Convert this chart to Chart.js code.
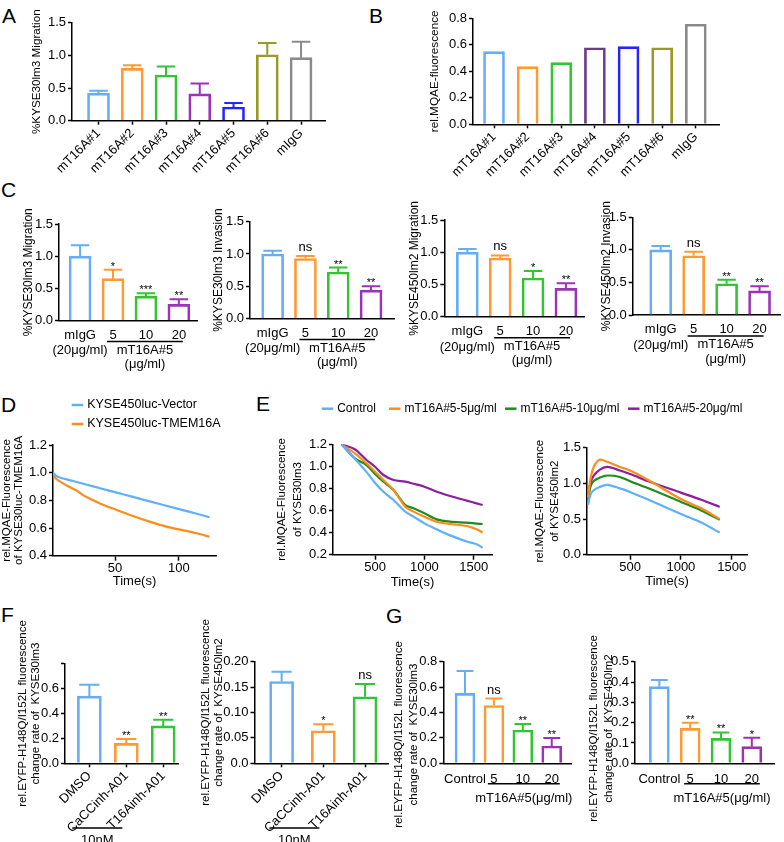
<!DOCTYPE html>
<html>
<head>
<meta charset="utf-8">
<title>TMEM16A antibody panels</title>
<script src="https://cdn.jsdelivr.net/npm/chart.js@4.4.1/dist/chart.umd.min.js"></script>
<style>
  body { margin: 0; background: #fff; }
  #fig { position: relative; width: 784px; height: 842px; overflow: hidden; font-family: Arial, "Liberation Sans", sans-serif; }
  #fig canvas { position: absolute; }
  .tag { position: absolute; font-size: 21px; line-height: 21px; color: #000; }
</style>
</head>
<body>
<div id="fig">
  <div class="tag" style="left:2px;top:5px">A</div>
  <div class="tag" style="left:369px;top:5px">B</div>
  <div class="tag" style="left:1px;top:179px">C</div>
  <div class="tag" style="left:1px;top:394px">D</div>
  <div class="tag" style="left:256px;top:393px">E</div>
  <div class="tag" style="left:1px;top:604px">F</div>
  <div class="tag" style="left:386px;top:605px">G</div>
</div>
<script>
// ---- values ----
const cloneNames = ['mT16A#1', 'mT16A#2', 'mT16A#3', 'mT16A#4', 'mT16A#5', 'mT16A#6', 'mIgG'];
const screenMigration = [0.42, 0.80, 0.70, 0.41, 0.21, 1.01, 0.965];
const screenMigrationErr = [0.04, 0.05, 0.13, 0.16, 0.06, 0.18, 0.245];
const screenMqae = [0.548, 0.435, 0.465, 0.578, 0.586, 0.578, 0.755];

const doseLabels = [['mIgG', '(20μg/ml)'], '5', '10', '20'];
const kyse30Migration = [1.0, 0.65, 0.38, 0.25];
const kyse30MigrationErr = [0.17, 0.14, 0.045, 0.08];
const kyse30MigrationSig = ['', '*', '***', '**'];
const kyse30Invasion = [1.0, 0.93, 0.72, 0.44];
const kyse30InvasionErr = [0.05, 0.04, 0.07, 0.06];
const kyse30InvasionSig = ['', 'ns', '**', '**'];
const kyse450Migration = [1.0, 0.91, 0.60, 0.44];
const kyse450MigrationErr = [0.05, 0.04, 0.11, 0.08];
const kyse450MigrationSig = ['', 'ns', '*', '**'];
const kyse450Invasion = [1.0, 0.91, 0.48, 0.37];
const kyse450InvasionErr = [0.06, 0.06, 0.06, 0.07];
const kyse450InvasionSig = ['', 'ns', '**', '**'];

const timeTicksD = [50, 100];
const timeD = [1.5, 4, 8, 13, 20, 26, 33, 39, 50, 64, 77, 90, 100, 114, 124];
const vectorD = [1.0, 0.976, 0.962, 0.95, 0.933, 0.918, 0.901, 0.886, 0.859, 0.825, 0.793, 0.761, 0.737, 0.703, 0.678];
const tmem16aD = [0.985, 0.955, 0.93, 0.904, 0.87, 0.832, 0.80, 0.774, 0.735, 0.687, 0.646, 0.61, 0.59, 0.562, 0.537];

const timeTicksE = [500, 1000, 1500];
const timeE30 = [160, 295, 413, 500, 585, 687, 806, 890, 1000, 1125, 1260, 1429, 1530, 1590];
const ctrlE30 = [1.2, 1.07, 0.95, 0.85, 0.77, 0.695, 0.59, 0.545, 0.484, 0.43, 0.375, 0.32, 0.295, 0.263];
const dose5E30 = [1.2, 1.118, 1.028, 0.952, 0.877, 0.786, 0.635, 0.59, 0.544, 0.499, 0.478, 0.46, 0.43, 0.40];
const dose10E30 = [1.2, 1.073, 1.012, 0.931, 0.861, 0.786, 0.65, 0.62, 0.575, 0.52, 0.499, 0.49, 0.482, 0.478];
const dose20E30 = [1.2, 1.155, 1.058, 0.997, 0.922, 0.877, 0.862, 0.843, 0.816, 0.77, 0.732, 0.69, 0.665, 0.65];

const timeE450 = [88, 110, 140, 200, 280, 400, 500, 700, 1000, 1200, 1382];
const ctrlE450 = [0.70, 0.84, 0.90, 0.95, 0.98, 0.93, 0.88, 0.76, 0.57, 0.45, 0.31];
const dose5E450 = [0.80, 1.05, 1.22, 1.33, 1.30, 1.23, 1.18, 1.03, 0.78, 0.65, 0.50];
const dose10E450 = [0.78, 0.95, 1.03, 1.08, 1.11, 1.09, 1.03, 0.92, 0.74, 0.62, 0.49];
const dose20E450 = [0.80, 1.0, 1.10, 1.19, 1.23, 1.18, 1.13, 1.02, 0.87, 0.77, 0.67];

const inhibitorLabels = ['DMSO', 'CaCCinh-A01', 'T16Ainh-A01'];
const eyfp30Inh = [0.54, 0.16, 0.30];
const eyfp30InhErr = [0.09, 0.035, 0.05];
const eyfp30InhSig = ['', '**', '**'];
const eyfp450Inh = [0.161, 0.064, 0.131];
const eyfp450InhErr = [0.019, 0.013, 0.025];
const eyfp450InhSig = ['', '*', 'ns'];

const antibodyLabels = ['Control', '5', '10', '20'];
const eyfp30Ab = [0.55, 0.455, 0.262, 0.136];
const eyfp30AbErr = [0.177, 0.055, 0.048, 0.064];
const eyfp30AbSig = ['', 'ns', '**', '**'];
const eyfp450Ab = [0.377, 0.172, 0.123, 0.082];
const eyfp450AbErr = [0.033, 0.028, 0.029, 0.044];
const eyfp450AbSig = ['', '**', '**', '*'];

// ---- styling ----
const FONT = 'Arial, "Liberation Sans", Helvetica, sans-serif';
Chart.defaults.font.family = FONT;
Chart.defaults.font.size = 13;
Chart.defaults.color = '#000';

const cLightBlue = '#66adf5', cOrange = '#ff9a33', cGreen = '#33c433', cPurple = '#9b33b8';
const cBlue = '#2424ff', cOlive = '#999926', cGray = '#8a8a8a', cDarkPurple = '#6a3a8c';
const colorsA = [cLightBlue, cOrange, cGreen, cPurple, cBlue, cOlive, cGray];
const colorsB = [cLightBlue, cOrange, cGreen, cDarkPurple, cBlue, cOlive, cGray];
const doseColors = [cLightBlue, cOrange, cGreen, cPurple];
const lineBlue = '#5fb0fa', lineOrange = '#ff8c1a', lineGreen = '#1f8c1f', linePurple = '#8c1f9e';

const fig = document.getElementById('fig');
function mkCanvas(box) {
  const c = document.createElement('canvas');
  c.width = box[2]; c.height = box[3];
  c.style.left = box[0] + 'px'; c.style.top = box[1] + 'px';
  c.style.width = box[2] + 'px'; c.style.height = box[3] + 'px';
  fig.appendChild(c);
  return c;
}

// box = canvas [x, y, w, h] on the page, plot = plot area [left, top, right, bottom] on the page
function baseOptions(box, plot) {
  return {
    responsive: false, animation: false, devicePixelRatio: 1, events: [],
    layout: { padding: { left: 0, top: plot[1] - box[1], right: box[0] + box[2] - plot[2], bottom: 0 } },
    plugins: { legend: { display: false }, tooltip: { enabled: false } }
  };
}

function yAxis(box, plot, o) {
  return {
    type: 'linear', min: o.min, max: o.max,
    afterFit: s => { s.width = plot[0] - box[0]; },
    border: { color: '#000', width: 1.5 },
    grid: { drawOnChartArea: false, color: '#000', tickColor: '#000', tickLength: 4, tickWidth: 1.5 },
    ticks: { stepSize: o.step, padding: 2, callback: o.fmt },
    title: { display: !o.shift, text: o.title, padding: 0, font: { size: o.size || 11.5, lineHeight: o.lh || 1.2 } }
  };
}

// y title drawn by hand when it sits off-centre from the plot
function shiftedTitle(y) {
  return {
    id: 'shiftedTitle',
    afterDraw(chart) {
      const s = chart.scales.y, ctx = chart.ctx;
      const size = y.size || 11.5, lh = size * (y.lh || 1.2);
      const cy = (s.top + s.bottom) / 2 + y.shift;
      ctx.save();
      ctx.fillStyle = '#000'; ctx.font = size + 'px ' + FONT;
      ctx.textAlign = 'center'; ctx.textBaseline = 'middle';
      [].concat(y.title).forEach((t, k) => {
        ctx.save();
        ctx.translate(s.left + lh / 2 + k * lh, cy);
        ctx.rotate(-Math.PI / 2);
        ctx.fillText(t, 0, 0);
        ctx.restore();
      });
      ctx.restore();
    }
  };
}

function catAxis(box, plot, o) {
  const rot = o.rotate ? 45 : 0;
  return {
    type: 'linear', min: o.lo, max: o.hi, offset: false,
    afterFit: s => { s.height = box[1] + box[3] - plot[3]; },
    afterBuildTicks: s => { s.ticks = o.labels.map((l, i) => ({ value: i })); },
    border: { color: '#000', width: 1.5 },
    grid: { offset: false, drawOnChartArea: false, drawTicks: !!o.rotate, color: '#000', tickLength: 4, tickWidth: 1.5 },
    ticks: { autoSkip: false, minRotation: rot, maxRotation: rot, padding: o.pad, callback: v => o.labels[v] }
  };
}

function errBars(err, sig, colors, thick) {
  return {
    id: 'errBars',
    afterDatasetsDraw(chart) {
      const ctx = chart.ctx, ys = chart.scales.y;
      const pts = chart.data.datasets[0].data;
      chart.getDatasetMeta(0).data.forEach((bar, i) => {
        const yTop = ys.getPixelForValue(pts[i].y + (err ? err[i] : 0));
        ctx.save();
        if (err) {
          const cap = thick * 0.42;
          ctx.strokeStyle = colors[i]; ctx.lineWidth = 2;
          ctx.beginPath();
          ctx.moveTo(bar.x, bar.y); ctx.lineTo(bar.x, yTop);
          ctx.moveTo(bar.x - cap, yTop); ctx.lineTo(bar.x + cap, yTop);
          ctx.stroke();
        }
        if (sig && sig[i]) {
          const ns = sig[i] === 'ns';
          ctx.fillStyle = '#000'; ctx.textAlign = 'center'; ctx.textBaseline = 'alphabetic';
          ctx.font = (ns ? '13px ' : '11px ') + FONT;
          ctx.fillText(sig[i], bar.x, yTop - (ns ? 5 : 0));
        }
        ctx.restore();
      });
    }
  };
}

// underline below a group of x labels, with a caption under it
function groupMark(from, to, dl, dr, lineDy, text, textDy) {
  return {
    id: 'groupMark',
    afterDraw(chart) {
      const ctx = chart.ctx, xs = chart.scales.x, base = chart.chartArea.bottom;
      const x0 = xs.getPixelForValue(from) - dl, x1 = xs.getPixelForValue(to) + dr;
      ctx.save();
      ctx.strokeStyle = '#000'; ctx.lineWidth = 1.5;
      ctx.beginPath(); ctx.moveTo(x0, base + lineDy); ctx.lineTo(x1, base + lineDy); ctx.stroke();
      ctx.fillStyle = '#000'; ctx.font = '13px ' + FONT;
      ctx.textAlign = 'center'; ctx.textBaseline = 'middle';
      text.forEach((t, k) => ctx.fillText(t, (x0 + x1) / 2, base + textDy + k * 14.5));
      ctx.restore();
    }
  };
}

function lineLegend(box, spots, size) {
  return {
    id: 'lineLegend',
    afterDraw(chart) {
      const ctx = chart.ctx;
      ctx.save();
      ctx.font = size + 'px ' + FONT; ctx.textBaseline = 'middle'; ctx.textAlign = 'left';
      chart.data.datasets.forEach((ds, i) => {
        const x = spots[i][0] - box[0], y = spots[i][1] - box[1];
        ctx.strokeStyle = ds.borderColor; ctx.lineWidth = 2.5;
        ctx.beginPath(); ctx.moveTo(x, y); ctx.lineTo(x + 11.5, y); ctx.stroke();
        ctx.fillStyle = '#000';
        ctx.fillText(ds.label, x + 15.5, y);
      });
      ctx.restore();
    }
  };
}

function barChart(box, plot, o) {
  const opts = baseOptions(box, plot);
  opts.scales = { x: catAxis(box, plot, o), y: yAxis(box, plot, o.y) };
  const extra = [errBars(o.err, o.sig, o.colors, o.thick)].concat(o.marks || []);
  if (o.y.shift) extra.push(shiftedTitle(o.y));
  return new Chart(mkCanvas(box), {
    type: 'bar',
    data: { datasets: [{
      data: o.values.map((v, i) => ({ x: i, y: v })),
      backgroundColor: 'rgba(255,255,255,0)', borderColor: o.colors,
      borderWidth: 2, borderSkipped: 'bottom', barThickness: o.thick
    }] },
    options: opts,
    plugins: extra
  });
}

function lineChart(box, plot, o) {
  const opts = baseOptions(box, plot);
  opts.scales = {
    x: {
      type: 'linear', min: o.xmin, max: o.xmax,
      afterFit: s => { s.height = box[1] + box[3] - plot[3]; },
      afterBuildTicks: s => { s.ticks = o.xticks.map(v => ({ value: v })); },
      border: { color: '#000', width: 1.5 },
      grid: { drawOnChartArea: false, color: '#000', tickLength: 5, tickWidth: 1.5 },
      ticks: { padding: 0, autoSkip: false, maxRotation: 0, callback: v => String(v) },
      title: { display: true, text: 'Time(s)', padding: { top: 0, bottom: o.xtitlePad }, font: { size: 13 } }
    },
    y: yAxis(box, plot, o.y)
  };
  return new Chart(mkCanvas(box), {
    type: 'line',
    data: { datasets: o.series.map(s => ({
      label: s.label,
      data: o.time.map((t, i) => ({ x: t, y: s.values[i] })),
      borderColor: s.color, borderWidth: 2.2, pointRadius: 0, tension: 0.3, fill: false
    })) },
    options: opts,
    plugins: o.legend ? [lineLegend(box, o.legend, o.legendSize)] : []
  });
}

const f1 = v => v.toFixed(1);

// A
barChart([30, 0, 300, 200], [72, 22.7, 325, 120.7], {
  labels: cloneNames, values: screenMigration, err: screenMigrationErr, colors: colorsA, thick: 22,
  lo: -0.785, hi: 6.71, rotate: true, pad: 1,
  y: { min: 0, max: 1.5, step: 0.5, fmt: f1, title: '%KYSE30lm3 Migration', size: 11.7 }
});
// B
barChart([428, 0, 300, 205], [473, 18.3, 719, 124.3], {
  labels: cloneNames, values: screenMqae, err: null, colors: colorsB, thick: 21,
  lo: -0.625, hi: 6.69, rotate: true, pad: 1,
  y: { min: 0, max: 0.8, step: 0.2, fmt: f1, title: 'rel.MQAE-fluorescence', size: 11.8 }
});

// C
const cPanels = [
  { box: [21, 185, 178, 195], plot: [59, 224, 197, 320.5], lo: -0.64, hi: 3.55, v: kyse30Migration, e: kyse30MigrationErr, s: kyse30MigrationSig, t: '%KYSE30lm3 Migration' },
  { box: [211, 185, 186, 195], plot: [250, 221.7, 394, 318.5], lo: -0.69, hi: 3.70, v: kyse30Invasion, e: kyse30InvasionErr, s: kyse30InvasionSig, t: '%KYSE30lm3 Invasion' },
  { box: [407, 185, 180, 195], plot: [444.3, 220, 584, 316.7], lo: -0.70, hi: 3.55, v: kyse450Migration, e: kyse450MigrationErr, s: kyse450MigrationSig, t: '%KYSE450lm2 Migration' },
  { box: [599, 185, 184, 195], plot: [632.7, 217.3, 780, 315], lo: -0.85, hi: 3.62, v: kyse450Invasion, e: kyse450InvasionErr, s: kyse450InvasionSig, t: '%KYSE450lm2 Invasion' }
];
cPanels.forEach(p => barChart(p.box, p.plot, {
  labels: doseLabels, values: p.v, err: p.e, sig: p.s, colors: doseColors, thick: 22,
  lo: p.lo, hi: p.hi, rotate: false, pad: 7,
  y: { min: 0, max: 1.5, step: 0.5, fmt: f1, title: p.t, size: 12 },
  marks: [groupMark(1, 3, 6, 4, 21, ['mT16A#5', '(μg/ml)'], 29.5)]
}));

// D
lineChart([0, 395, 230, 200], [53, 445, 216, 555.7], {
  time: timeD,
  series: [
    { label: 'KYSE450luc-Vector', values: vectorD, color: lineBlue },
    { label: 'KYSE450luc-TMEM16A', values: tmem16aD, color: lineOrange }
  ],
  xmin: 1.5, xmax: 129, xticks: timeTicksD, xtitlePad: 5.8,
  y: { min: 0.4, max: 1.2, step: 0.2, fmt: f1, title: ['rel.MQAE-Fluorescence', 'of KYSE30luc-TMEM16A'], lh: 1.12 },
  legend: [[71.7, 405], [71.7, 424]], legendSize: 12.5
});

// E
const eLabels = ['Control', 'mT16A#5-5μg/ml', 'mT16A#5-10μg/ml', 'mT16A#5-20μg/ml'];
const eColors = [lineBlue, lineOrange, lineGreen, linePurple];
lineChart([274, 395, 480, 200], [333, 444.3, 492, 554.7], {
  time: timeE30,
  series: [ctrlE30, dose5E30, dose10E30, dose20E30].map((v, i) => ({ label: eLabels[i], values: v, color: eColors[i] })),
  xmin: 74, xmax: 1685, xticks: timeTicksE, xtitlePad: 4.5,
  y: { min: 0.2, max: 1.2, step: 0.2, fmt: f1, title: ['rel.MQAE-Fluorescence', 'of KYSE30lm3'], lh: 1.37 },
  legend: [[321.7, 408.7], [389, 408.7], [505, 408.7], [628, 408.7]], legendSize: 12
});
lineChart([532, 430, 250, 165], [587, 447.7, 747, 554.7], {
  time: timeE450,
  series: [ctrlE450, dose5E450, dose10E450, dose20E450].map((v, i) => ({ label: eLabels[i], values: v, color: eColors[i] })),
  xmin: 77, xmax: 1650, xticks: timeTicksE, xtitlePad: 5.8,
  y: { min: 0, max: 1.5, step: 0.5, fmt: f1, title: ['rel.MQAE-Fluorescence', 'of KYSE450lm2'], lh: 1.3 }
});

// F
barChart([16, 600, 170, 242], [65, 663.7, 178, 763.3], {
  labels: inhibitorLabels, values: eyfp30Inh, err: eyfp30InhErr, sig: eyfp30InhSig, colors: doseColors, thick: 24,
  lo: -0.66, hi: 2.4, rotate: true, pad: 1,
  y: { min: 0, max: 0.8, step: 0.2, fmt: v => (v > 0.79 ? '' : v.toFixed(1)),
       title: ['rel.EYFP-H148Q/I152L fluorescence', 'change rate of  KYSE30lm3'], lh: 1.17 },
  marks: [groupMark(1, 1, 54, -4, 64.7, ['10nM'], 77)]
});
barChart([199, 600, 192, 242], [254.5, 661.7, 388, 763.3], {
  labels: inhibitorLabels, values: eyfp450Inh, err: eyfp450InhErr, sig: eyfp450InhSig, colors: doseColors, thick: 24,
  lo: -0.65, hi: 2.55, rotate: true, pad: 1,
  y: { min: 0, max: 0.2, step: 0.05, fmt: v => (v === 0 ? '0.0' : v.toFixed(2)),
       title: ['rel.EYFP-H148Q/I152L fluorescence', 'change rate of  KYSE450lm2'], lh: 1.17 },
  marks: [groupMark(1, 1, 54, -4, 64.7, ['10nM'], 77)]
});

// G
barChart([391, 600, 185, 242], [443.3, 661.7, 571.7, 763.3], {
  labels: antibodyLabels, values: eyfp30Ab, err: eyfp30AbErr, sig: eyfp30AbSig, colors: doseColors, thick: 20,
  lo: -0.75, hi: 3.69, rotate: false, pad: 8.5,
  y: { min: 0, max: 0.8, step: 0.2, fmt: f1, shift: 22,
       title: ['rel.EYFP-H148Q/I152L fluorescence', 'change rate of  KYSE30lm3'], lh: 1.3 },
  marks: [groupMark(1, 3, 6, 8, 20.5, ['mT16A#5(μg/ml)'], 35)]
});
barChart([587, 600, 195, 242], [635, 661.7, 774, 763.3], {
  labels: antibodyLabels, values: eyfp450Ab, err: eyfp450AbErr, sig: eyfp450AbSig, colors: doseColors, thick: 20,
  lo: -0.79, hi: 3.72, rotate: false, pad: 8.5,
  y: { min: 0, max: 0.5, step: 0.1, fmt: f1, shift: 16,
       title: ['rel.EYFP-H148Q/I152L fluorescence', 'change rate of  KYSE450lm2'], lh: 1.26 },
  marks: [groupMark(1, 3, 6, 8, 20.5, ['mT16A#5(μg/ml)'], 35)]
});
</script>
</body>
</html>
